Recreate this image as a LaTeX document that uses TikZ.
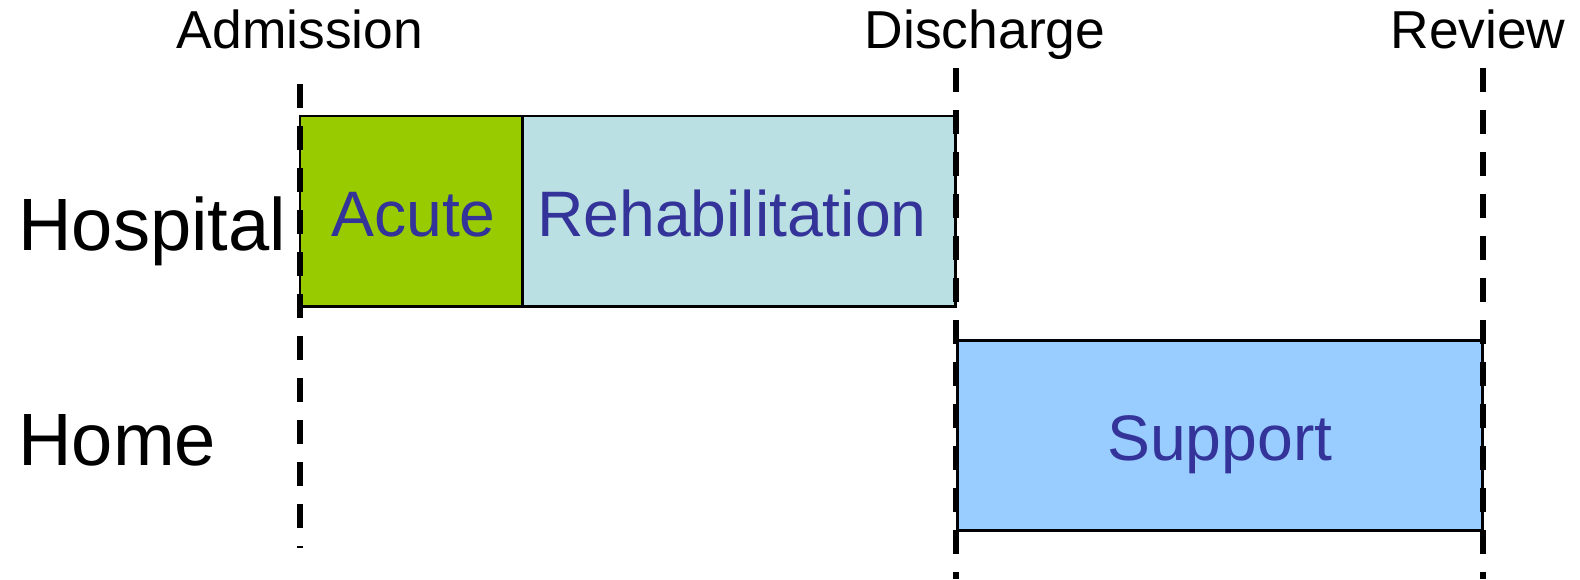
\documentclass[tikz,border=0pt]{standalone}
\usepackage{fontspec}
\setmainfont{Liberation Sans}
\usetikzlibrary{positioning}
\definecolor{acutegreen}{HTML}{99CC00}
\definecolor{rehabblue}{HTML}{BBE0E3}
\definecolor{supportblue}{HTML}{99CCFF}
\definecolor{phasetext}{HTML}{333399}

\begin{document}
\begin{tikzpicture}[x=0.02cm,y=-0.02cm,
	phase/.style={draw=black, line width=1.7pt, inner sep=0pt, outer sep=0pt, minimum height=3.82cm, text height=1.02cm, text depth=0pt, text=phasetext, font=\fontsize{36.6}{40}\selectfont},
	milestone/.style={anchor=base, inner sep=0pt, font=\fontsize{30.4}{34}\selectfont},
	setting/.style={anchor=base west, inner sep=0pt, font=\fontsize{42.2}{46}\selectfont},
	marker/.style={line width=3.4pt, dash pattern=on 0.48cm off 0.36cm}]
	\useasboundingbox (0,0) rectangle (1580,579);

	\node[phase, fill=acutegreen, minimum width=4.46cm, anchor=north west] (acute) at (300,116) {\hspace*{0.08cm}Acute};
	\node[phase, fill=rehabblue, minimum width=8.66cm, right=0pt of acute] (rehab) {Rehabilitation\hspace*{0.3cm}};
	\node[phase, fill=supportblue, minimum width=10.52cm, anchor=north west] (support) at (957,340) {Support};

	\node[setting] (hospital) at (18,250) {Hospital};
	\node[setting] (home) at (18,465) {Home};

	\node[milestone] (admission) at (300,48) {Admission};
	\node[milestone] (discharge) at (985,48) {Discharge};
	\node[milestone] (review) at (1478,48) {Review};

	% Marken
	\coordinate (admission-top) at (300,84);
	\coordinate (admission-end) at (300,548);
	\coordinate (discharge-top) at (956,68);
	\coordinate (discharge-end) at (956,579);
	\coordinate (review-top) at (1483,68);
	\coordinate (review-end) at (1483,579);
	\foreach \m in {admission,discharge,review} {
		\draw[marker] (\m-top) -- (\m-end);
	}

\end{tikzpicture}
\end{document}
